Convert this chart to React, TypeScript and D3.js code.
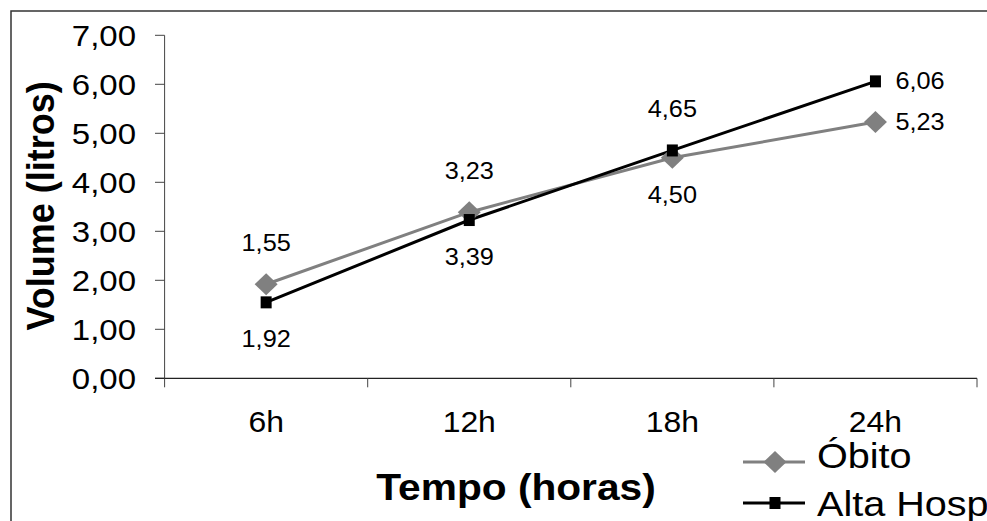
import React from "react";
import * as d3 from "d3";

const categories = ["6h", "12h", "18h", "24h"];
const obitoValues = [1.92, 3.39, 4.5, 5.23];
const altaValues = [1.55, 3.23, 4.65, 6.06];
const yTicks = [0, 1, 2, 3, 4, 5, 6, 7];
// label placement per category: above the upper point, below the lower point, or to the right
const altaLabelPlace = ["above", "above", "above", "right"];
const obitoLabelPlace = ["below", "below", "below", "right"];
const seriesNames = ["Óbito", "Alta Hosp"];

const W = 987;
const H = 521;
const FONT = "'Liberation Sans', Arial, Helvetica, sans-serif";
const SX = 1.1;

const fmt = (v: number) => v.toFixed(2).replace(".", ",");

export default function App() {
  const left = 164.6;
  const right = 977;
  const top = 35.3;
  const bottom = 378.3;

  const x = d3.scaleBand<string>().domain(categories).range([left, right]).padding(0);
  const y = d3.scaleLinear().domain([0, 7]).range([bottom, top]);
  const cx = (c: string) => (x(c) as number) + x.bandwidth() / 2;

  const line = d3
    .line<number>()
    .x((_, i) => cx(categories[i]))
    .y((d) => y(d));

  const tickBounds = [...categories.map((c) => x(c) as number), right];

  const T = (
    key: string,
    tx: number,
    ty: number,
    text: string,
    size: number,
    anchor: string,
    bold = false,
    rotate = 0
  ) => (
    <text
      key={key}
      transform={`translate(${tx},${ty}) scale(${SX},1)${rotate ? ` rotate(${rotate})` : ""}`}
      textAnchor={anchor}
      fontFamily={FONT}
      fontSize={size}
      fontWeight={bold ? "bold" : "normal"}
      fill="#000"
    >
      {text}
    </text>
  );

  const labelFor = (key: string, i: number, v: number, place: string) => {
    const c = categories[i];
    const hi = Math.max(obitoValues[i], altaValues[i]);
    const lo = Math.min(obitoValues[i], altaValues[i]);
    if (place === "right") return T(key, cx(c) + 20, y(v) + 8, fmt(v), 23, "start");
    if (place === "above") return T(key, cx(c), y(hi) - 33, fmt(v), 23, "middle");
    return T(key, cx(c), y(lo) + 45, fmt(v), 23, "middle");
  };

  const diamond = (px: number, py: number, key: string) => (
    <path
      key={key}
      d={`M${px},${py - 11}L${px + 11.5},${py}L${px},${py + 11}L${px - 11.5},${py}Z`}
      fill="#808080"
    />
  );
  const square = (px: number, py: number, key: string) => (
    <rect key={key} x={px - 5.5} y={py - 6} width={11} height={12} fill="#000" />
  );

  return (
    <svg
      width={W}
      height={H}
      style={{ position: "absolute", left: 0, top: 0, display: "block", background: "#fff" }}
    >
      <rect x={0} y={0} width={W} height={H} fill="#fff" />
      {/* outer frame (clipped at right/bottom as in the reference) */}
      <path d={`M11,${H + 5}V11H${W + 5}`} fill="none" stroke="#333" strokeWidth={1.5} />

      {/* y axis */}
      <line x1={left} x2={left} y1={top} y2={bottom} stroke="#444" strokeWidth={1} />
      {yTicks.map((t) => (
        <line key={"yt" + t} x1={155} x2={left} y1={y(t)} y2={y(t)} stroke="#444" strokeWidth={1} />
      ))}
      {yTicks.map((t) => T("yl" + t, 136, y(t) + 10.7, fmt(t), 30, "end"))}

      {/* x axis */}
      <line x1={155} x2={right} y1={bottom} y2={bottom} stroke="#222" strokeWidth={1.2} />
      {tickBounds.map((b, i) => (
        <line key={"xt" + i} x1={b} x2={b} y1={bottom} y2={bottom + 9} stroke="#444" strokeWidth={1} />
      ))}
      {categories.map((c) => T("xl" + c, cx(c), 432, c, 29, "middle"))}

      {/* series */}
      <path d={line(obitoValues) || ""} fill="none" stroke="#808080" strokeWidth={3} />
      <path d={line(altaValues) || ""} fill="none" stroke="#000" strokeWidth={3} />
      {obitoValues.map((v, i) => diamond(cx(categories[i]), y(v), "od" + i))}
      {altaValues.map((v, i) => square(cx(categories[i]), y(v), "as" + i))}

      {/* data labels */}
      {altaValues.map((v, i) => labelFor("al" + i, i, v, altaLabelPlace[i]))}
      {obitoValues.map((v, i) => labelFor("ol" + i, i, v, obitoLabelPlace[i]))}

      {/* titles */}
      {T("ytitle", 54, 206, "Volume (litros)", 36, "middle", true, -90)}
      {T("xtitle", 516, 500, "Tempo (horas)", 37, "middle", true)}

      {/* legend */}
      <line x1={743} x2={805} y1={462} y2={462} stroke="#808080" strokeWidth={3} />
      {diamond(775, 462, "lgd")}
      {T("lg0", 817, 468, seriesNames[0], 36, "start")}
      <line x1={743} x2={805} y1={503} y2={503} stroke="#000" strokeWidth={3} />
      {square(775, 503, "lgs")}
      {T("lg1", 817, 516, seriesNames[1], 36, "start")}
    </svg>
  );
}
